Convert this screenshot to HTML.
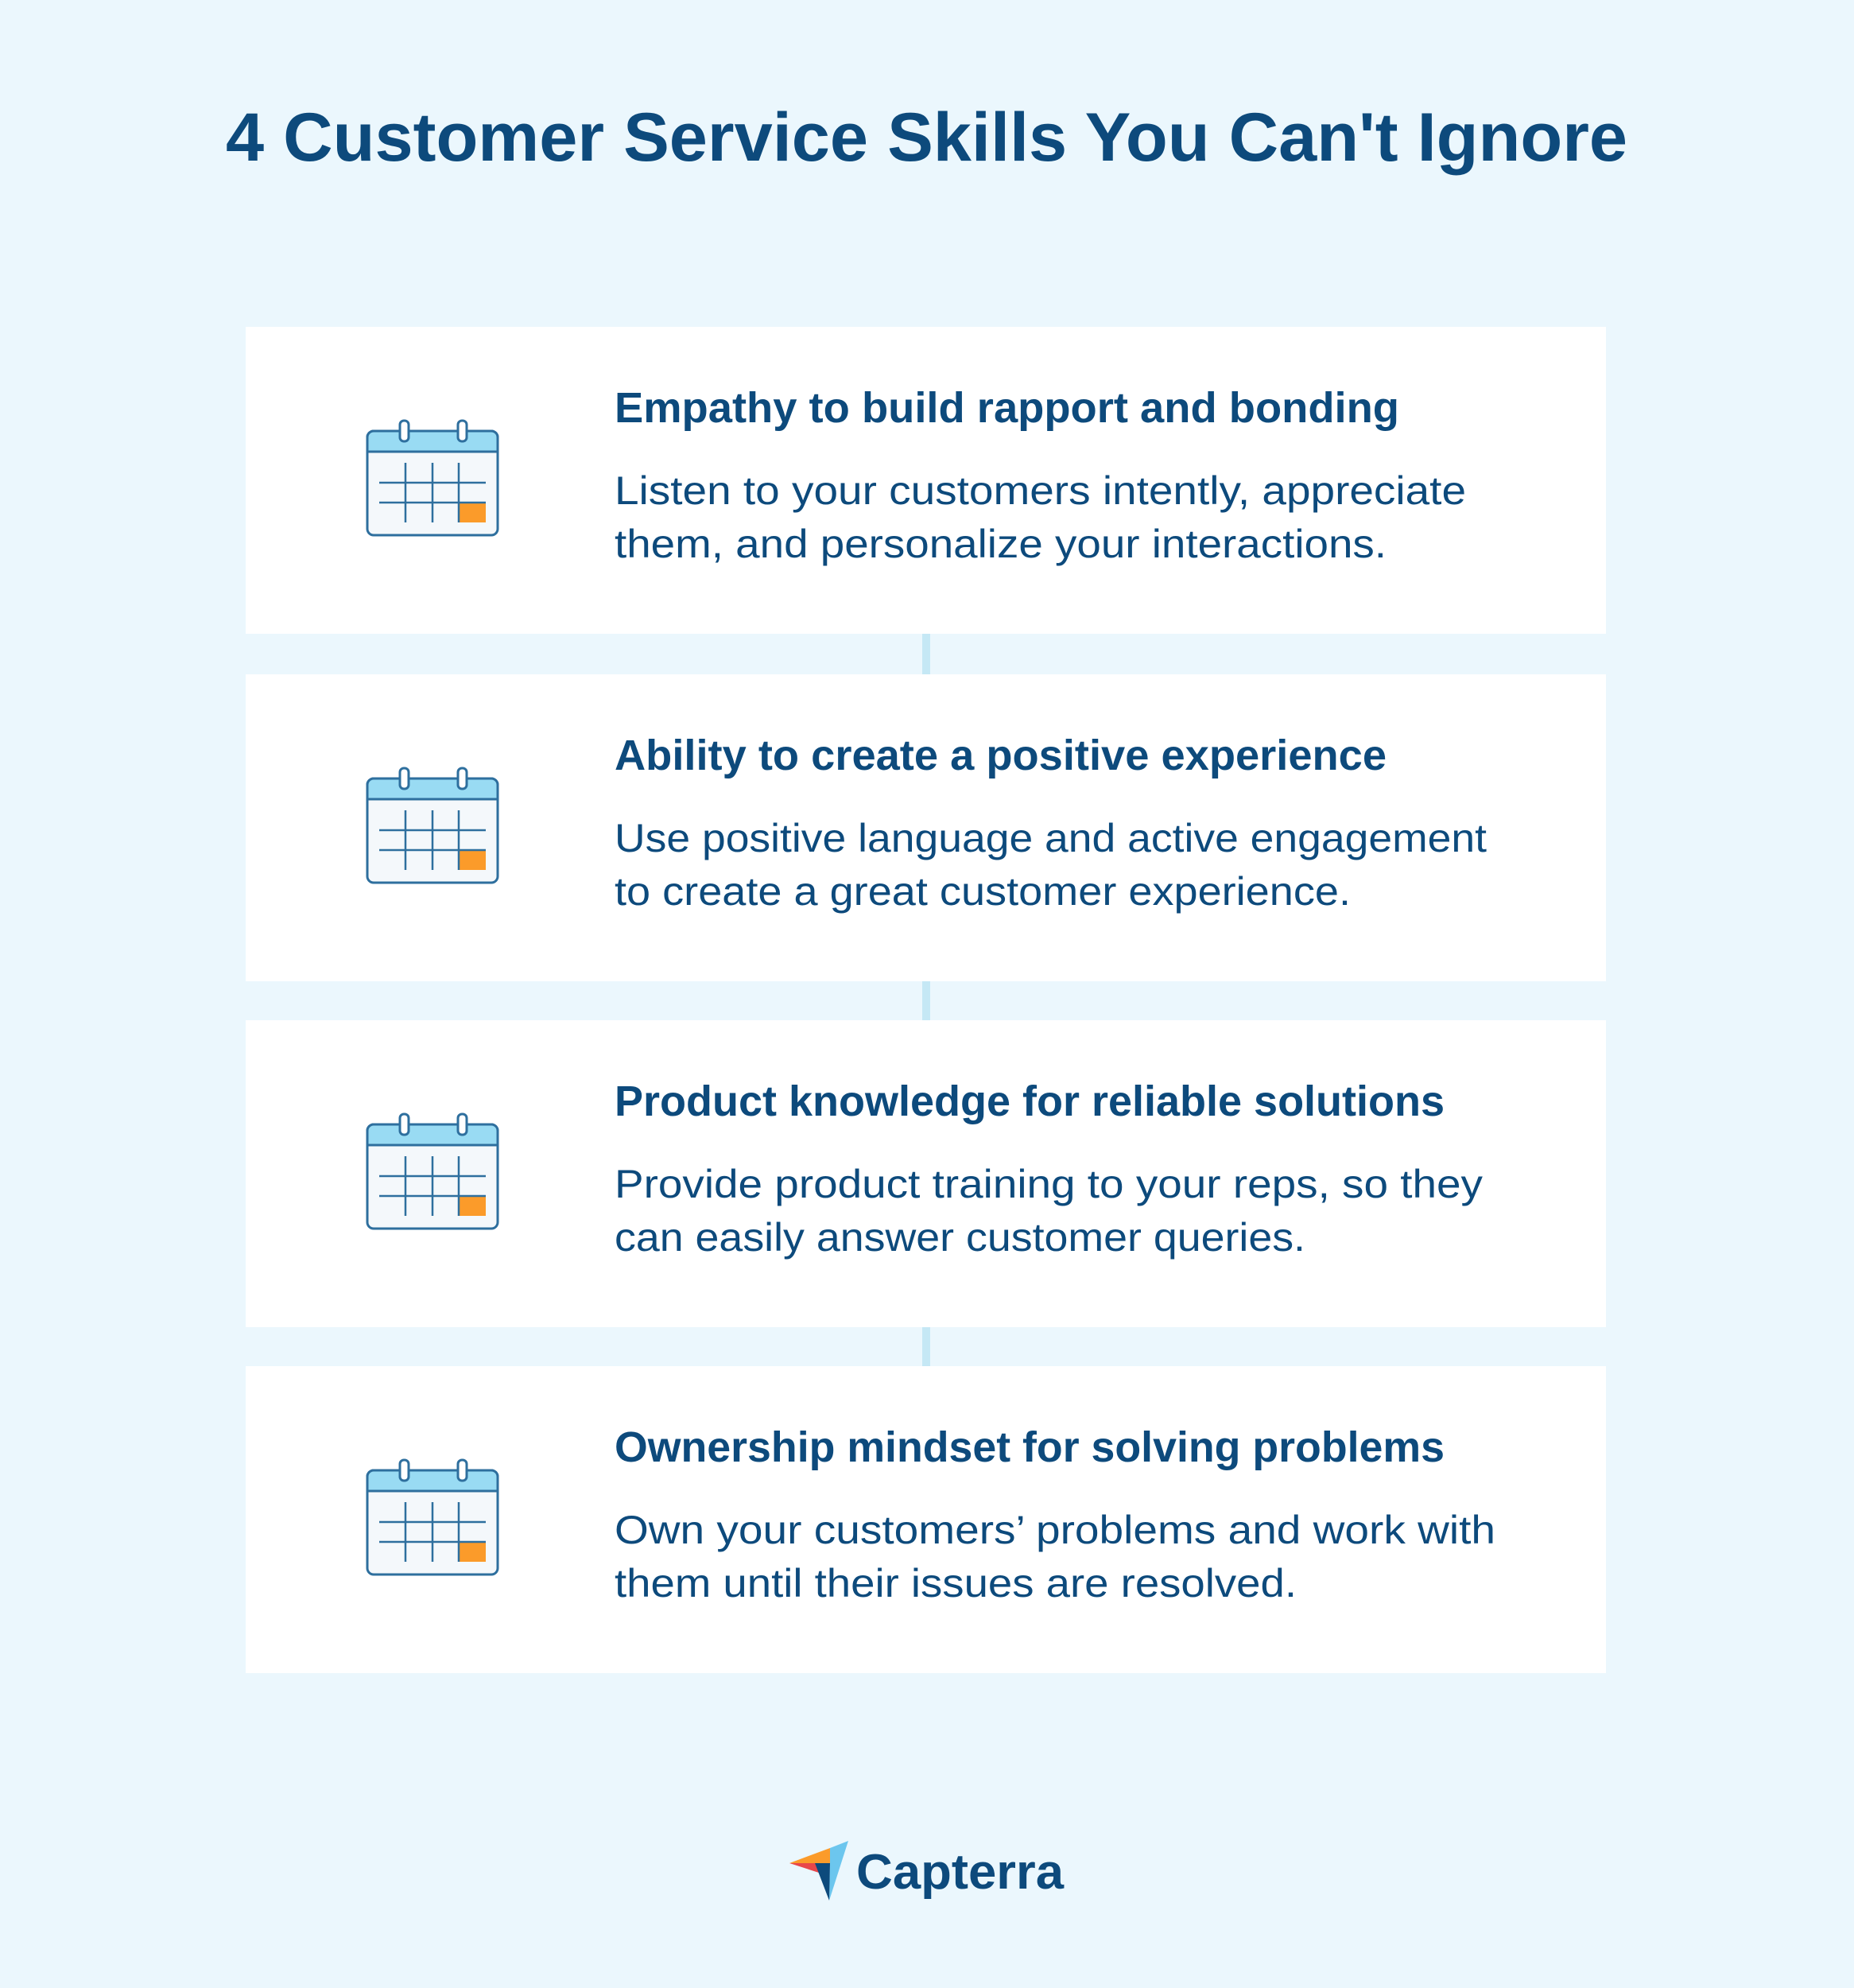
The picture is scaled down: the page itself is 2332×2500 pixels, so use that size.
<!DOCTYPE html>
<html><head><meta charset="utf-8"><style>html,body{margin:0;padding:0;background:#ebf7fd}svg{display:block}</style></head>
<body>
<svg width="2332" height="2500" viewBox="0 0 2332 2500" xmlns="http://www.w3.org/2000/svg" font-family="'Liberation Sans', sans-serif">
<defs>
<g id="cal">
<rect x="462" y="131" width="164" height="131" rx="8" fill="#f4f8fb" stroke="#2e6f9e" stroke-width="3"/>
<path d="M470 131 H618 a8 8 0 0 1 8 8 V157 H462 V139 a8 8 0 0 1 8 -8z" fill="#99dbf3" stroke="#2e6f9e" stroke-width="3"/>
<rect x="503" y="118" width="11" height="26" rx="5" fill="#fff" stroke="#2e6f9e" stroke-width="3"/>
<rect x="576" y="118" width="11" height="26" rx="5" fill="#fff" stroke="#2e6f9e" stroke-width="3"/>
<rect x="577" y="221" width="34" height="25" fill="#fb9b2a"/>
<g stroke="#2e6f9e" stroke-width="2.5">
<line x1="510" y1="171" x2="510" y2="246"/><line x1="544" y1="171" x2="544" y2="246"/><line x1="577" y1="171" x2="577" y2="246"/>
<line x1="477" y1="196" x2="611" y2="196"/><line x1="477" y1="221" x2="611" y2="221"/>
</g>
</g>
</defs>
<rect width="2332" height="2500" fill="#ebf7fd"/>
<text x="284" y="202" font-size="86" font-weight="bold" fill="#0d4a7c" textLength="1763" lengthAdjust="spacingAndGlyphs">4 Customer Service Skills You Can't Ignore</text>
<g fill="#c5e8f5"><rect x="1160" y="797" width="10" height="51"/><rect x="1160" y="1234" width="10" height="49"/><rect x="1160" y="1669" width="10" height="49"/></g>

<g transform="translate(0,411)">
<rect x="309" y="0" width="1711" height="386" fill="#fff"/><use href="#cal"/>
<text x="773" y="120" font-size="54" font-weight="bold" fill="#0d4a7c" textLength="987" lengthAdjust="spacingAndGlyphs">Empathy to build rapport and bonding</text>
<text x="773" y="223" font-size="50" fill="#0d4a7c" textLength="1071" lengthAdjust="spacingAndGlyphs">Listen to your customers intently, appreciate</text>
<text x="773" y="290" font-size="50" fill="#0d4a7c" textLength="971" lengthAdjust="spacingAndGlyphs">them, and personalize your interactions.</text>
</g>
<g transform="translate(0,848)">
<rect x="309" y="0" width="1711" height="386" fill="#fff"/><use href="#cal"/>
<text x="773" y="120" font-size="54" font-weight="bold" fill="#0d4a7c" textLength="971" lengthAdjust="spacingAndGlyphs">Ability to create a positive experience</text>
<text x="773" y="223" font-size="50" fill="#0d4a7c" textLength="1097" lengthAdjust="spacingAndGlyphs">Use positive language and active engagement</text>
<text x="773" y="290" font-size="50" fill="#0d4a7c" textLength="926" lengthAdjust="spacingAndGlyphs">to create a great customer experience.</text>
</g>
<g transform="translate(0,1283)">
<rect x="309" y="0" width="1711" height="386" fill="#fff"/><use href="#cal"/>
<text x="773" y="120" font-size="54" font-weight="bold" fill="#0d4a7c" textLength="1044" lengthAdjust="spacingAndGlyphs">Product knowledge for reliable solutions</text>
<text x="773" y="223" font-size="50" fill="#0d4a7c" textLength="1092" lengthAdjust="spacingAndGlyphs">Provide product training to your reps, so they</text>
<text x="773" y="290" font-size="50" fill="#0d4a7c" textLength="869" lengthAdjust="spacingAndGlyphs">can easily answer customer queries.</text>
</g>
<g transform="translate(0,1718)">
<rect x="309" y="0" width="1711" height="386" fill="#fff"/><use href="#cal"/>
<text x="773" y="120" font-size="54" font-weight="bold" fill="#0d4a7c" textLength="1044" lengthAdjust="spacingAndGlyphs">Ownership mindset for solving problems</text>
<text x="773" y="223" font-size="50" fill="#0d4a7c" textLength="1108" lengthAdjust="spacingAndGlyphs">Own your customers’ problems and work with</text>
<text x="773" y="290" font-size="50" fill="#0d4a7c" textLength="858" lengthAdjust="spacingAndGlyphs">them until their issues are resolved.</text>
</g>

<polygon points="993,2343 1044,2324 1044,2343" fill="#fb9b2a"/>
<polygon points="1044,2324 1067,2315 1043,2390 1044,2343" fill="#6cc6ee"/>
<polygon points="993,2343 1025,2343 1033,2356" fill="#e8474a"/>
<polygon points="1025,2343 1044,2343 1043,2390" fill="#0d4a7c"/>
<text x="1077" y="2375" font-size="62" font-weight="bold" fill="#0d4a7c" textLength="261" lengthAdjust="spacingAndGlyphs">Capterra</text>
</svg>
</body></html>
